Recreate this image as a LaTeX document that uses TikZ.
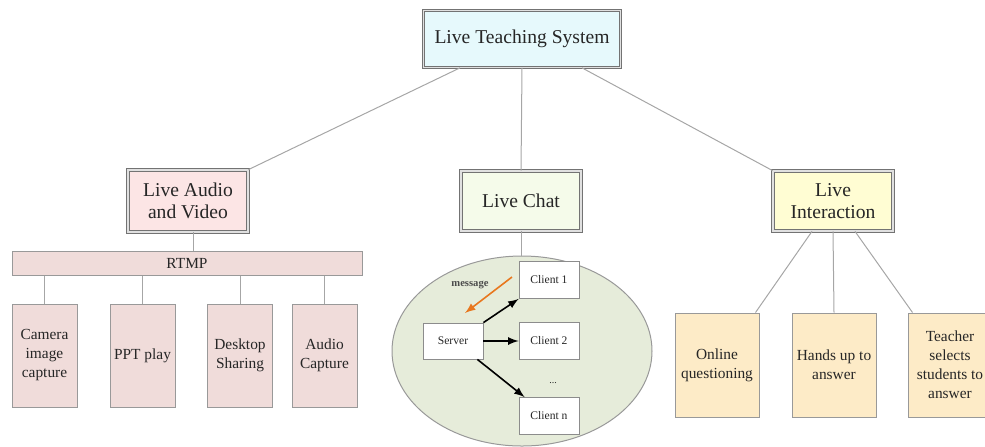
\documentclass[tikz,border=0pt]{standalone}
\usepackage{fontspec}
\setmainfont{Liberation Serif}
\usetikzlibrary{shapes.geometric}

\definecolor{ciel}{HTML}{E6F9FC}
\definecolor{rose}{HTML}{FCE5E5}
\definecolor{vert}{HTML}{F5FBEA}
\definecolor{jaune}{HTML}{FFFDD3}
\definecolor{vieuxrose}{HTML}{F0DCDA}
\definecolor{creme}{HTML}{FDEBC7}
\definecolor{sauge}{HTML}{E6ECDA}
\definecolor{orange}{HTML}{E8771E}

\begin{document}
\begin{tikzpicture}[
    x=0.5pt, y=-0.5pt,
    every node/.style={font=\fontsize{7.7}{9.5}\selectfont, text=black!85, align=center, inner sep=0pt},
    titre/.style={draw=black!55, double=black!12, double distance=0.9pt, line width=0.35pt, font=\fontsize{9.8}{10.9}\selectfont},
    bloc/.style={draw=black!40, line width=0.5pt},
    petit/.style={draw=black!45, fill=white, line width=0.4pt, minimum width=30pt, minimum height=18.5pt, font=\fontsize{5.8}{7}\selectfont},
    lien/.style={draw=black!35, line width=0.5pt},
    fleche/.style={draw=black, line width=0.8pt, -latex},
]
\useasboundingbox (0,0) rectangle (985,446);
\clip (0,0) rectangle (985,446);

% Premier niveau
\node[titre, fill=ciel, minimum width=98.5pt, minimum height=28.5pt] (sys) at (522,39) {Live Teaching System};

% Deuxième niveau
\node[titre, fill=rose, minimum width=60pt, minimum height=31pt] (av) at (188,201) {Live Audio\\and Video};
\node[titre, fill=vert, minimum width=60pt, minimum height=30pt] (chat) at (521,201) {Live Chat};
\node[titre, fill=jaune, minimum width=60pt, minimum height=30pt] (inter) at (833,201) {Live\\Interaction};

\draw[lien] ([xshift=-31pt]sys.south) -- (av.north east);
\draw[lien] (sys.south) -- (chat.north);
\draw[lien] ([xshift=30pt]sys.south) -- (inter.north west);

% Audio et vidéo
\node[bloc, fill=vieuxrose, minimum width=175pt, minimum height=12pt] (rtmp) at (187,263) {RTMP};
\draw[lien] ([xshift=2.5pt]av.south) -- ([xshift=2.5pt]av.south |- rtmp.north);

\node[bloc, fill=vieuxrose, minimum width=32.5pt, minimum height=51.5pt] (cam) at (44.5,355.5) {Camera\\image\\capture};
\node[bloc, fill=vieuxrose, minimum width=32.5pt, minimum height=51.5pt] (ppt) at (142.5,355.5) {PPT play};
\node[bloc, fill=vieuxrose, minimum width=32.5pt, minimum height=51.5pt] (bureau) at (240,355.5) {Desktop\\Sharing};
\node[bloc, fill=vieuxrose, minimum width=32.5pt, minimum height=51.5pt] (son) at (324.5,355.5) {Audio\\Capture};

\foreach \b in {cam,ppt,bureau,son}
    \draw[lien] (\b.north |- rtmp.south) -- (\b.north);

% Chat
\node[ellipse, draw=black!40, fill=sauge, line width=0.5pt, minimum width=130pt, minimum height=95pt] (nuage) at (522,351) {};
\draw[lien] (chat.south) -- (chat.south |- nuage.north);

\node[petit, minimum height=18pt] (serveur) at (453,341) {Server};
\node[petit] (c1) at (549,280) {Client 1};
\node[petit] (c2) at (549,341) {Client 2};
\node[petit] (cn) at (549,416) {Client n};
\node[font=\fontsize{5}{6}\selectfont] (pts) at (553,383) {...};

\draw[fleche] (serveur.north east) -- (c1.south west);
\draw[fleche] (serveur.east) -- (c2.west);
\draw[fleche] ([xshift=-3pt]serveur.south east) -- ([xshift=3pt]cn.north west);

\coordinate (m1) at (512,277);
\coordinate (m2) at (465,313);
\draw[orange, line width=0.8pt, -latex] (m1) -- (m2);
\node[font=\bfseries\fontsize{5.3}{6}\selectfont, text=black!70] (msg) at (470,285) {message};

% Interaction
\node[bloc, fill=creme, minimum width=42pt, minimum height=52pt] (q1) at (717,365) {Online\\questioning};
\node[bloc, fill=creme, minimum width=42pt, minimum height=52pt] (q2) at (834,365) {Hands up to\\answer};
\node[bloc, fill=creme, minimum width=42pt, minimum height=52pt] (q3) at (950,365) {Teacher\\selects\\students to\\answer};

\draw[lien] ([xshift=-10.5pt]inter.south) -- ([xshift=-2pt]q1.north east);
\draw[lien] (inter.south) -- (q2.north);
\draw[lien] ([xshift=11pt]inter.south) -- ([xshift=2.5pt]q3.north west);

\end{tikzpicture}
\end{document}
